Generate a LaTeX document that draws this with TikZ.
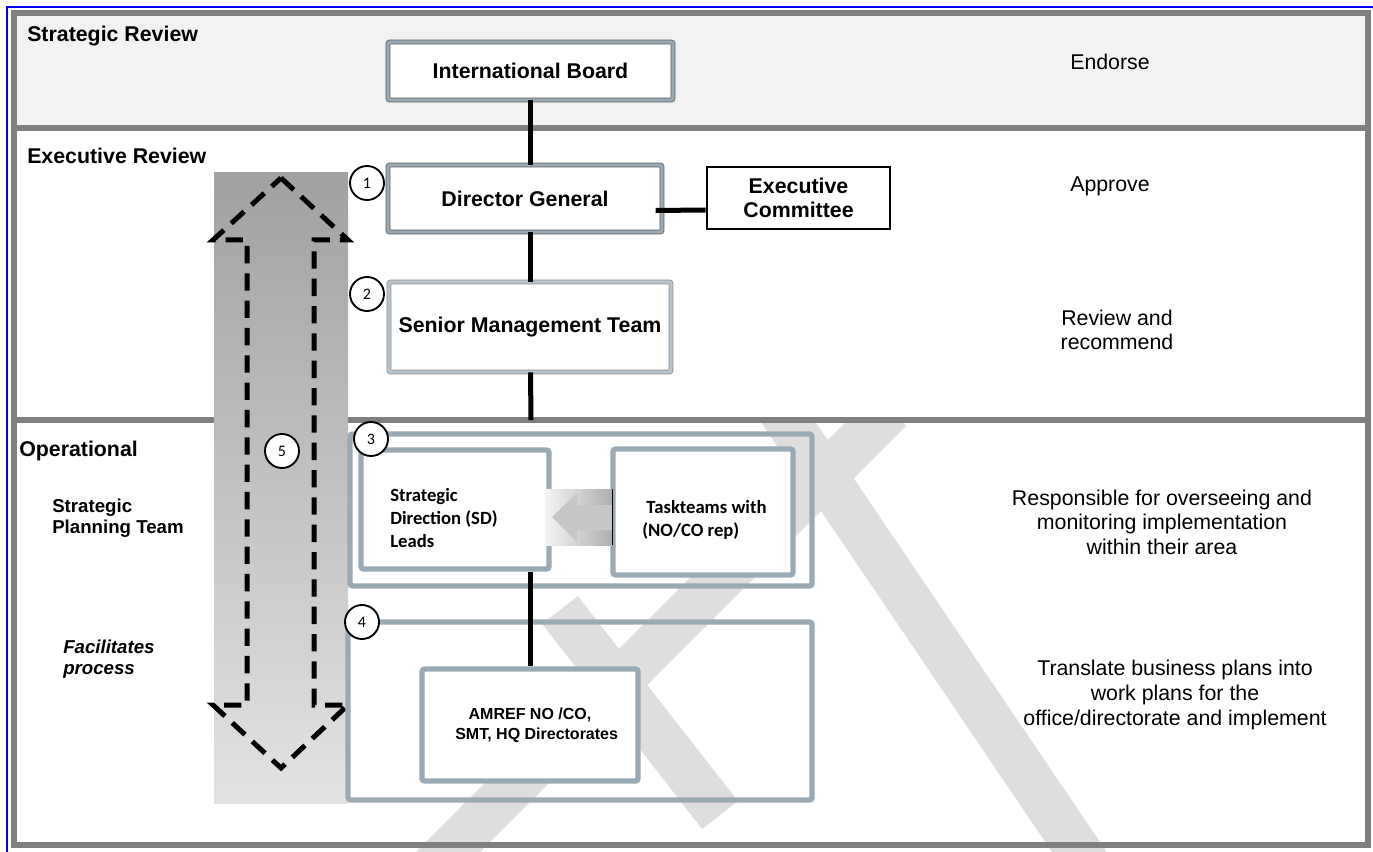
\documentclass[tikz,border=0pt]{standalone}
\usepackage{fontspec}
\setmainfont{Liberation Sans}
\newfontfamily\calfont{Carlito}
\usetikzlibrary{calc}

\definecolor{bordergray}{RGB}{128,128,128}
\definecolor{bandfill}{RGB}{242,242,242}
\definecolor{boxblue}{RGB}{154,170,180}
\definecolor{wmark}{RGB}{222,222,222}
\newcommand\pxu{0.75pt}

\begin{document}
\begin{tikzpicture}[x=0.75pt, y=-0.75pt,
        frame/.style={draw=bordergray, line width=4.5pt},
        boardbox/.style={draw=black!65, double=boxblue, double distance=2.6pt, line width=0.55pt,
            fill=white, rounded corners=1.5pt, inner sep=0pt, font=\bfseries\fontsize{16}{18}\selectfont},
        groupbox/.style={draw=boxblue, line width=4pt, rounded corners=2pt},
        unitbox/.style={draw=boxblue, line width=4pt, fill=white, rounded corners=2pt, inner sep=0pt},
        unittext/.style={align=left, inner sep=0pt, font=\calfont\bfseries\fontsize{14}{17}\selectfont},
        link/.style={line width=3.75pt},
        num/.style={circle, draw, line width=1.4pt, fill=white, minimum size=25.5pt, inner sep=0pt,
            font=\calfont\fontsize{12}{12}\selectfont},
        note/.style={align=center, font=\fontsize{16}{18.4}\selectfont},
        head/.style={anchor=west, inner sep=0pt, font=\bfseries\fontsize{16}{18}\selectfont}]

    \useasboundingbox (0,0) rectangle (1373,852);
    \fill[white] (0,0) rectangle (1373,852);

    % Bands
    \fill[bandfill] (13,13) rectangle (1368,128);
    \begin{scope}
        \clip (16,423) rectangle (1373,852);
        \draw[wmark, line width=34pt] (430,870) -- (890,410);
        \draw[wmark, line width=34pt] (780,410) -- (1095,875);
        \draw[wmark, line width=34pt] (560,610) -- (720,815);
    \end{scope}
    \draw[frame] (13.5,13) rectangle (1368,845);
    \draw[frame] (13.5,128) -- (1368,128);
    \draw[frame] (13.5,420) -- (1368,420);
    \draw[blue, line width=1.5pt] (7,852) -- (7,7) -- (1373,7);

    % Planning column
    \shade[top color=black!37, bottom color=black!11] (214,173) rectangle (348,803);
    \draw[line width=3.75pt, dash pattern=on 13pt off 7.5pt]
        (281,178) -- (348,240) -- (314,240) -- (314,705) -- (348,705) -- (281,768)
        -- (213,705) -- (247,705) -- (247,240) -- (213,240) -- cycle;

    % Band headings
    \node[head] (hstrat) at (27,36) {Strategic Review};
    \node[head] (hexec) at (27,156) {Executive Review};
    \node[head] (hoper) at (19,451) {Operational};
    \node[head, align=left, font=\bfseries\fontsize{14}{16}\selectfont] (hspt) at (52,518) {Strategic\\Planning Team};
    \node[head, align=left, font=\bfseries\itshape\fontsize{14}{16}\selectfont] (hfac) at (63,659) {Facilitates\\process};

    % Executive level
    \node[boardbox, minimum width=285*\pxu, minimum height=58*\pxu] (ib) at (530.5,71) {International Board};
    \node[boardbox, minimum width=274*\pxu, minimum height=67*\pxu] (dg) at (525,198.5) {Director General};
    \node[draw, line width=2.2pt, fill=white, align=center, minimum width=183*\pxu, minimum height=62*\pxu,
        inner sep=0pt, font=\bfseries\fontsize{16}{18}\selectfont] (ec) at (798.5,198) {Executive\\Committee};
    \node[boardbox, draw=black!45, double=boxblue!70, minimum width=282*\pxu, minimum height=90*\pxu] (smt) at (530,327) {Senior Management Team};
    \coordinate (opentry) at (531,420);

    % Operational level
    \draw[groupbox] (350,434) rectangle (812,586);
    \draw[groupbox] (348,622) rectangle (812,800);
    \node[unitbox, minimum width=188*\pxu, minimum height=119*\pxu] (sd) at (455,509.5) {};
    \node[unittext, anchor=west] (sdtext) at (390,518) {Strategic\\Direction (SD)\\Leads};
    \node[unitbox, minimum width=180*\pxu, minimum height=126*\pxu] (tt) at (703,512) {};
    \node[unittext, anchor=west] (tttext) at (642,520) {\ Taskteams with\\(NO/CO rep)};
    \node[unitbox, minimum width=216*\pxu, minimum height=112*\pxu, align=center,
        font=\bfseries\fontsize{12}{15}\selectfont] (amref) at (530,725) {AMREF NO /CO,\\\ \ \ SMT, HQ Directorates};

    % Taskteams feed SD leads
    \shade[left color=black!4, right color=black!32] (545,489) rectangle (612,545);
    \fill[black!22] (552,517) -- (577,493) -- (577,505) -- (612,505) -- (612,530) -- (577,530) -- (577,542) -- cycle;
    \draw[line width=0.6pt] (612,489) -- (612,545);

    % Edges
    \draw[link] (ib.south) -- (ib.south |- dg.north);
    \draw[link] (ib.south |- dg.south) -- (ib.south |- smt.north);
    \draw[link] (ib.south |- smt.south) -- (opentry);
    \draw[link] ([xshift=-5pt, yshift=-9pt]dg.east) -- ([yshift=-9pt]ec.west);
    \draw[link] (amref.north |- sd.south) -- (amref.north);

    % Step numbers
    \node[num] (n1) at (367,183) {1};
    \node[num] (n2) at (367,294) {2};
    \node[num] (n3) at (371,439) {3};
    \node[num] (n4) at (362,622) {4};
    \node[num] (n5) at (282,451) {5};

    % Roles
    \node[note] (rendorse) at (1110,62) {Endorse};
    \node[note] (rapprove) at (1110,186) {Approve};
    \node[note] (rreview) at (1117,330) {Review and\\recommend};
    \node[note] (roversee) at (1162,522) {Responsible for overseeing and\\monitoring implementation\\within their area};
    \node[note] (rtranslate) at (1175,695) {Translate business plans into\\work plans for the\\office/directorate and implement};
\end{tikzpicture}
\end{document}
